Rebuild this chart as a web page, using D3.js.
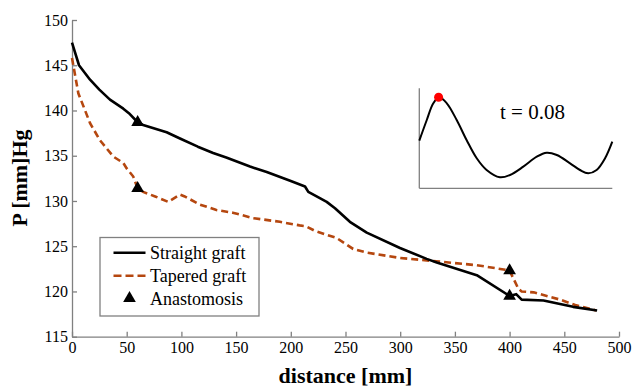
<!DOCTYPE html>
<html>
<head>
<meta charset="utf-8">
<script src="https://cdn.jsdelivr.net/npm/d3@7"></script>
<style>
  html, body { margin: 0; padding: 0; background: #fff; }
  svg { display: block; }
  svg text { font-family: "Liberation Serif", "Times New Roman", serif !important; }
</style>
</head>
<body>
<svg id="chart" width="633" height="387"></svg>
<script>
// ---- data ----
const straightX = [0, 6.4, 16.5, 25, 34.7, 46.9, 52, 60, 65, 86.5, 98.7, 115, 129, 141, 162.7, 178, 200, 213, 216, 223.6, 232.8, 240.4, 254, 269.4, 299.8, 324.2, 333.4, 370, 400, 406, 411, 431, 458, 480];
const straightY = [147.5, 145.0, 143.4, 142.3, 141.2, 140.2, 139.7, 138.7, 138.4, 137.6, 136.9, 136.0, 135.3, 134.8, 133.8, 133.2, 132.2, 131.6, 131.0, 130.5, 129.9, 129.2, 127.7, 126.5, 124.8, 123.6, 123.2, 121.8, 119.5, 119.7, 119.1, 119.0, 118.3, 117.9];
const taperedX = [0, 5.8, 16.5, 25.6, 37.8, 46.9, 50, 56, 60, 65, 76, 88, 98.7, 103, 117, 132, 147, 165.7, 190, 208, 214, 222, 242, 257, 269, 300, 336, 370, 396, 400, 408, 411, 422, 446, 460, 479];
const taperedY = [145.8, 141.9, 138.6, 136.7, 134.9, 134.2, 133.6, 132.7, 131.4, 131.0, 130.5, 129.9, 130.7, 130.5, 129.6, 129.0, 128.7, 128.1, 127.7, 127.3, 127.2, 126.7, 125.9, 124.7, 124.3, 123.7, 123.3, 122.9, 122.4, 122.3, 120.3, 120.0, 119.9, 119.1, 118.5, 117.9];
const anastX = [60, 60, 400, 400];
const anastY = [138.7, 131.4, 122.3, 119.5];
const xTicks = [0, 50, 100, 150, 200, 250, 300, 350, 400, 450, 500];
const yTicks = [115, 120, 125, 130, 135, 140, 145, 150];
const legendLabels = ["Straight graft", "Tapered graft", "Anastomosis"];
// inset waveform (time in s, pressure in arbitrary units)
const waveT = [0, 0.031, 0.058, 0.082, 0.114, 0.155, 0.196, 0.238, 0.279, 0.334, 0.376, 0.431, 0.487, 0.528, 0.570, 0.625, 0.666, 0.700, 0.735, 0.770, 0.800];
const waveP = [47.6, 68.3, 85, 91, 85, 68.3, 48.3, 30, 18.3, 11, 13.3, 21.6, 31.6, 35.6, 33.3, 25, 18.3, 15, 18.3, 30, 46.6];
const currentT = 0.08;
const currentP = 91;

// ---- layout ----
const svg = d3.select("#chart");
const serif = "Liberation Serif";
const axisColor = "#808080";
const black = "#000000";
const rust = "#b5470f";

const x = d3.scaleLinear().domain([0, 500]).range([72, 619]);
const y = d3.scaleLinear().domain([115, 150]).range([336.7, 20]);

// axes
const xAxis = d3.axisBottom(x).tickValues(xTicks).tickSizeInner(-5).tickSizeOuter(0).tickPadding(5);
const yAxis = d3.axisLeft(y).tickValues(yTicks).tickSizeInner(-5).tickSizeOuter(0).tickPadding(4);

const gx = svg.append("g").attr("transform", `translate(0,${y(115)})`).call(xAxis);
const gy = svg.append("g").attr("transform", `translate(${x(0)},0)`).call(yAxis);
[gx, gy].forEach(g => {
  g.attr("font-family", serif).attr("font-size", 16);
  g.select(".domain").attr("stroke", axisColor).attr("stroke-width", 1.3);
  g.selectAll(".tick line").attr("stroke", axisColor).attr("stroke-width", 1.3);
  g.selectAll(".tick text").attr("fill", "#000").attr("font-family", serif).attr("font-size", 16);
});

// axis titles
svg.append("text").attr("x", 345.5).attr("y", 383)
  .attr("text-anchor", "middle").attr("font-family", serif).attr("font-size", 22).attr("font-weight", "bold")
  .text("distance [mm]");
svg.append("text").attr("transform", "translate(27,178) rotate(-90)")
  .attr("text-anchor", "middle").attr("font-family", serif).attr("font-size", 22).attr("font-weight", "bold")
  .text("P [mm]Hg");

// lines
const line = d3.line().x(d => x(d[0])).y(d => y(d[1]));
const straight = straightX.map((v, i) => [v, straightY[i]]);
const tapered = taperedX.map((v, i) => [v, taperedY[i]]);

svg.append("path").datum(tapered).attr("d", line)
  .attr("fill", "none").attr("stroke", rust).attr("stroke-width", 2.6)
  .attr("stroke-dasharray", "7,4");
svg.append("path").datum(straight).attr("d", line)
  .attr("fill", "none").attr("stroke", black).attr("stroke-width", 2.6)
  .attr("stroke-linejoin", "round");

// anastomosis triangles
const tri = d3.symbol().type(d3.symbolTriangle).size(70);
svg.selectAll(".anast").data(anastX.map((v, i) => [v, anastY[i]])).enter()
  .append("path").attr("class", "anast")
  .attr("transform", d => `translate(${x(d[0])},${y(d[1])})`)
  .attr("d", tri).attr("fill", black);

// legend
const lg = svg.append("g");
lg.append("rect").attr("x", 100).attr("y", 237.5).attr("width", 159).attr("height", 78.5)
  .attr("fill", "#fff").attr("stroke", axisColor).attr("stroke-width", 1.3);
const rowY = [252.7, 275.7, 298.3];
lg.append("line").attr("x1", 113.5).attr("x2", 145.5).attr("y1", rowY[0]).attr("y2", rowY[0])
  .attr("stroke", black).attr("stroke-width", 2.6);
lg.append("line").attr("x1", 113.5).attr("x2", 145.5).attr("y1", rowY[1]).attr("y2", rowY[1])
  .attr("stroke", rust).attr("stroke-width", 2.6).attr("stroke-dasharray", "8,4");
lg.append("path").attr("transform", `translate(129.5,${rowY[2]})`).attr("d", tri).attr("fill", black);
legendLabels.forEach((t, i) => {
  lg.append("text").attr("x", 150).attr("y", rowY[i] + 6.5)
    .attr("font-family", serif).attr("font-size", 18).attr("fill", "#000").text(t);
});

// inset
const ix = d3.scaleLinear().domain([0, 0.8]).range([419.3, 612.3]);
const iy = d3.scaleLinear().domain([0, 100]).range([188.3, 88.3]);
const ig = svg.append("g");
ig.append("line").attr("x1", ix(0)).attr("x2", ix(0)).attr("y1", iy(100)).attr("y2", iy(0))
  .attr("stroke", axisColor).attr("stroke-width", 1.3);
ig.append("line").attr("x1", ix(0)).attr("x2", ix(0.8)).attr("y1", iy(0)).attr("y2", iy(0))
  .attr("stroke", axisColor).attr("stroke-width", 1.3);
const wline = d3.line().x(d => ix(d[0])).y(d => iy(d[1])).curve(d3.curveCatmullRom.alpha(0.5));
ig.append("path").datum(waveT.map((v, i) => [v, waveP[i]])).attr("d", wline)
  .attr("fill", "none").attr("stroke", black).attr("stroke-width", 2);
ig.append("circle").attr("cx", ix(currentT)).attr("cy", iy(currentP)).attr("r", 4.5).attr("fill", "#ff0000");
ig.append("text").attr("x", 500).attr("y", 119.3).attr("font-family", serif).attr("font-size", 21).attr("fill", "#000")
  .text("t = " + currentT.toFixed(2));
</script>
</body>
</html>
